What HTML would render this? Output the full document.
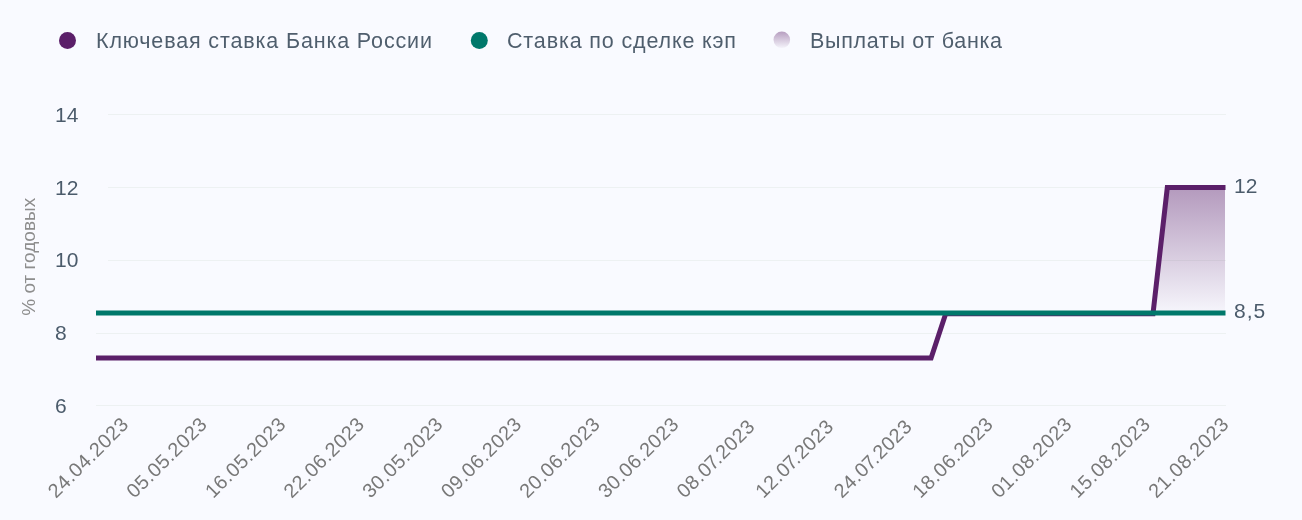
<!DOCTYPE html>
<html><head><meta charset="utf-8"><style>
html,body{margin:0;padding:0;background:#f9faff;width:1302px;height:520px;overflow:hidden}
svg{display:block;font-family:"Liberation Sans", sans-serif;will-change:transform}
</style></head><body>
<svg width="1302" height="520" viewBox="0 0 1302 520">
<rect width="1302" height="520" fill="#f9faff"/>
<line x1="108" y1="114.5" x2="1226" y2="114.5" stroke="#edf1f2" stroke-width="1"/>
<line x1="108" y1="187.5" x2="1226" y2="187.5" stroke="#edf1f2" stroke-width="1"/>
<line x1="108" y1="260.5" x2="1226" y2="260.5" stroke="#edf1f2" stroke-width="1"/>
<line x1="96" y1="333.5" x2="1226" y2="333.5" stroke="#edf1f2" stroke-width="1"/>
<line x1="96" y1="405.5" x2="1226" y2="405.5" stroke="#edf1f2" stroke-width="1"/>
<text x="55" y="121.5" fill="#4b5b6b" font-size="21">14</text>
<text x="55" y="194.5" fill="#4b5b6b" font-size="21">12</text>
<text x="55" y="267" fill="#4b5b6b" font-size="21">10</text>
<text x="55" y="340" fill="#4b5b6b" font-size="21">8</text>
<text x="55" y="412.5" fill="#4b5b6b" font-size="21">6</text>
<text transform="translate(35.3,256.8) rotate(-90)" text-anchor="middle" fill="#8e8e8e" font-size="19">% от годовых</text>
<defs><linearGradient id="g" x1="0" y1="0" x2="0" y2="1"><stop offset="0" stop-color="#5b1f69" stop-opacity="0.44"/><stop offset="1" stop-color="#5b1f69" stop-opacity="0.02"/></linearGradient><linearGradient id="lg" x1="0" y1="0" x2="0" y2="1"><stop offset="0" stop-color="#5b1f69" stop-opacity="0.42"/><stop offset="1" stop-color="#5b1f69" stop-opacity="0.03"/></linearGradient></defs>
<polygon points="1167.3,187.6 1225,187.6 1225,312.75 1153,312.75" fill="url(#g)"/>
<polyline points="96,358 931.1,358 945.7,313.8 1153,313.8 1167.3,187.6 1225.5,187.6" fill="none" stroke="#5b1f69" stroke-width="5" stroke-linejoin="miter"/>
<line x1="96" y1="313" x2="1225.5" y2="313" stroke="#00786b" stroke-width="5"/>
<text x="1234" y="193" fill="#4b5b6b" font-size="21">12</text>
<text x="1234" y="318" fill="#4b5b6b" font-size="21" letter-spacing="1">8,5</text>
<text transform="translate(129.90,425.20) rotate(-45)" text-anchor="end" fill="#787878" font-size="19.8" letter-spacing="0.55">24.04.2023</text>
<text transform="translate(208.50,425.20) rotate(-45)" text-anchor="end" fill="#787878" font-size="19.8" letter-spacing="0.55">05.05.2023</text>
<text transform="translate(287.10,425.20) rotate(-45)" text-anchor="end" fill="#787878" font-size="19.8" letter-spacing="0.55">16.05.2023</text>
<text transform="translate(365.70,425.20) rotate(-45)" text-anchor="end" fill="#787878" font-size="19.8" letter-spacing="0.55">22.06.2023</text>
<text transform="translate(444.30,425.20) rotate(-45)" text-anchor="end" fill="#787878" font-size="19.8" letter-spacing="0.55">30.05.2023</text>
<text transform="translate(522.90,425.20) rotate(-45)" text-anchor="end" fill="#787878" font-size="19.8" letter-spacing="0.55">09.06.2023</text>
<text transform="translate(601.50,425.20) rotate(-45)" text-anchor="end" fill="#787878" font-size="19.8" letter-spacing="0.55">20.06.2023</text>
<text transform="translate(680.10,425.20) rotate(-45)" text-anchor="end" fill="#787878" font-size="19.8" letter-spacing="0.55">30.06.2023</text>
<text transform="translate(756.23,427.67) rotate(-45)" text-anchor="end" fill="#787878" font-size="19.8" letter-spacing="0.55">08.0<tspan dx="-1.2">7</tspan><tspan dx="-2.3">.2023</tspan></text>
<text transform="translate(834.83,427.67) rotate(-45)" text-anchor="end" fill="#787878" font-size="19.8" letter-spacing="0.55">12.0<tspan dx="-1.2">7</tspan><tspan dx="-2.3">.2023</tspan></text>
<text transform="translate(913.43,427.67) rotate(-45)" text-anchor="end" fill="#787878" font-size="19.8" letter-spacing="0.55">24.0<tspan dx="-1.2">7</tspan><tspan dx="-2.3">.2023</tspan></text>
<text transform="translate(994.50,425.20) rotate(-45)" text-anchor="end" fill="#787878" font-size="19.8" letter-spacing="0.55">18.06.2023</text>
<text transform="translate(1073.10,425.20) rotate(-45)" text-anchor="end" fill="#787878" font-size="19.8" letter-spacing="0.55">01.08.2023</text>
<text transform="translate(1151.70,425.20) rotate(-45)" text-anchor="end" fill="#787878" font-size="19.8" letter-spacing="0.55">15.08.2023</text>
<text transform="translate(1230.30,425.20) rotate(-45)" text-anchor="end" fill="#787878" font-size="19.8" letter-spacing="0.55">21.08.2023</text>
<circle cx="67.5" cy="40.5" r="8.5" fill="#5b1f69"/>
<text x="96" y="47.8" fill="#4f5e6d" font-size="21.5" textLength="336" lengthAdjust="spacing">Ключевая ставка Банка России</text>
<circle cx="479.3" cy="40.4" r="8.5" fill="#00786b"/>
<text x="507" y="47.8" fill="#4f5e6d" font-size="21.5" textLength="229" lengthAdjust="spacing">Ставка по сделке кэп</text>
<circle cx="781.8" cy="39.8" r="8.3" fill="url(#lg)"/>
<text x="810" y="47.8" fill="#4f5e6d" font-size="21.5" textLength="192" lengthAdjust="spacing">Выплаты от банка</text>
</svg>
</body></html>
